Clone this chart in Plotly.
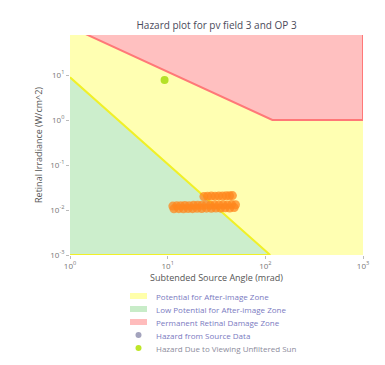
import plotly.graph_objects as go

# Axis extents (log10 units)
x_log_range = [0, 3]
y_log_range = [-3, 1.89]
x_lo, x_hi = 10 ** x_log_range[0], 10 ** x_log_range[1]
y_lo, y_hi = 10 ** y_log_range[0], 10 ** y_log_range[1]

# Threshold boundaries: subtended angle (mrad) vs retinal irradiance (W/cm^2)
afterimage_omega = [1.0, 112.0]
afterimage_E = [8.9, 0.001]
burn_omega = [1.0, 118.0, 1000.0]
burn_E = [118.0, 1.0, 1.0]

# Glare hazard points from the PV field
source_omega = [11.3, 12.4, 13.6, 15.0, 16.6, 18.4, 20.3, 22.4, 24.8, 27.4, 30.3, 33.5, 37.0, 40.9, 45.2, 49.5,
                11.6, 13.0, 14.5, 16.2, 18.0, 20.0, 22.3, 25.0, 28.0, 31.2, 34.8, 38.8, 43.2, 48.0,
                23.5, 25.6, 28.0, 30.6, 33.4, 36.5, 39.8, 43.0, 46.0]
source_E = [0.0122, 0.0124, 0.0125, 0.0126, 0.0125, 0.0127, 0.0128, 0.0127, 0.0129, 0.0128, 0.0130, 0.0129, 0.0131, 0.0130, 0.0132, 0.0131,
            0.0106, 0.0107, 0.0106, 0.0108, 0.0107, 0.0109, 0.0108, 0.0110, 0.0109, 0.0111, 0.0110, 0.0112, 0.0111, 0.0113,
            0.0200, 0.0202, 0.0204, 0.0203, 0.0206, 0.0205, 0.0208, 0.0207, 0.0209]

# Unfiltered sun
sun_omega = [9.3]
sun_E = [7.8]

x_tickvals = [1, 10, 100, 1000]
x_ticktext = ["10<sup>0</sup>", "10<sup>1</sup>", "10<sup>2</sup>", "10<sup>3</sup>"]
y_tickvals = [0.001, 0.01, 0.1, 1, 10]
y_ticktext = ["10<sup>-3</sup>", "10<sup>-2</sup>", "10<sup>-1</sup>", "10<sup>0</sup>", "10<sup>1</sup>"]

# Legend entries
legend_labels = ["Potential for After-image Zone", "Low Potential for After-image Zone",
                 "Permanent Retinal Damage Zone", "Hazard from Source Data",
                 "Hazard Due to Viewing Unfiltered Sun"]
legend_kinds = ["box", "box", "box", "dot", "dot"]
legend_swatch = ["rgb(255,255,170)", "rgb(200,236,200)", "rgb(255,188,188)", "#a3a3bd", "rgb(190,230,40)"]
legend_text_colors = ["#7a7abf", "#7a7abf", "#7a7abf", "#7a7abf", "#8c8c9c"]

fig = go.Figure()

# Yellow zone covers the whole plot; the other zones are laid over it
yellow_x = [x_lo, x_hi, x_hi, x_lo]
yellow_y = [y_lo, y_lo, y_hi, y_hi]
fig.add_trace(go.Scatter(
    x=yellow_x, y=yellow_y, mode="lines", fill="toself",
    fillcolor="rgb(255,255,178)", line=dict(width=0),
    name=legend_labels[0], hoverinfo="skip"))

# Green zone: below the after-image threshold
green_x = afterimage_omega + [x_lo]
green_y = afterimage_E + [y_lo]
fig.add_trace(go.Scatter(
    x=green_x, y=green_y, mode="lines", fill="toself",
    fillcolor="rgb(204,238,204)", line=dict(color="rgb(240,240,40)", width=2),
    name=legend_labels[1], hoverinfo="skip"))

# Pink zone: above the retinal burn threshold
pink_x = burn_omega + [x_hi, x_lo]
pink_y = burn_E + [y_hi * 10, y_hi * 10]
fig.add_trace(go.Scatter(
    x=pink_x, y=pink_y, mode="lines", fill="toself",
    fillcolor="rgb(255,192,192)", line=dict(color="rgb(255,120,120)", width=2),
    name=legend_labels[2], hoverinfo="skip"))

# Source hazard points
fig.add_trace(go.Scatter(
    x=source_omega, y=source_E, mode="markers",
    marker=dict(size=9, color="rgba(255,135,30,0.75)", line=dict(width=0)),
    name=legend_labels[3], hoverinfo="x+y"))

# Sun marker
fig.add_trace(go.Scatter(
    x=sun_omega, y=sun_E, mode="markers",
    marker=dict(size=8, color="rgb(180,225,40)"),
    name=legend_labels[4]))

# Compact legend below the axes (paper coordinates)
plot_left, plot_w, plot_bottom, plot_h = 70, 293, 255, 220


def px_x(px):
    return (px - plot_left) / plot_w


def px_y(py):
    return (plot_bottom - py) / plot_h


shapes = []
annotations = []
row_top, row_step = 296, 13
for i, (label, kind, swatch, tcol) in enumerate(zip(legend_labels, legend_kinds, legend_swatch, legend_text_colors)):
    cy = row_top + i * row_step
    if kind == "box":
        shapes.append(dict(type="rect", xref="paper", yref="paper",
                           x0=px_x(130), x1=px_x(147), y0=px_y(cy + 3), y1=px_y(cy - 3),
                           fillcolor=swatch, line=dict(width=0)))
    else:
        shapes.append(dict(type="circle", xref="paper", yref="paper",
                           x0=px_x(135.5), x1=px_x(141.5), y0=px_y(cy + 3), y1=px_y(cy - 3),
                           fillcolor=swatch, line=dict(width=0)))
    annotations.append(dict(text=label, xref="paper", yref="paper", x=px_x(154), y=px_y(cy),
                            xanchor="left", yanchor="middle", showarrow=False,
                            font=dict(size=8, color=tcol)))

fig.update_layout(
    width=385, height=365,
    margin=dict(l=70, r=22, t=35, b=110),
    paper_bgcolor="white", plot_bgcolor="white",
    showlegend=False,
    font=dict(family="Open Sans, sans-serif", color="#555"),
    title=dict(text="Hazard plot for pv field 3 and OP 3", x=0.5625, xanchor="center",
               y=0.93, yanchor="middle", font=dict(size=10, color="#4a4a5a")),
    xaxis=dict(type="log", range=x_log_range, tickvals=x_tickvals, ticktext=x_ticktext,
               showgrid=False, zeroline=False, ticks="outside", ticklen=3, tickcolor="#bbb",
               tickfont=dict(size=8, color="#777"),
               title=dict(text="Subtended Source Angle (mrad)", font=dict(size=9, color="#555"), standoff=0)),
    yaxis=dict(type="log", range=y_log_range, tickvals=y_tickvals, ticktext=y_ticktext,
               showgrid=False, zeroline=False, ticks="outside", ticklen=3, tickcolor="#bbb",
               tickfont=dict(size=8, color="#777"),
               title=dict(text="Retinal Irradiance (W/cm^2)", font=dict(size=9, color="#555"), standoff=6)),
    shapes=shapes,
    annotations=annotations,
)

fig.write_html("out.html")
